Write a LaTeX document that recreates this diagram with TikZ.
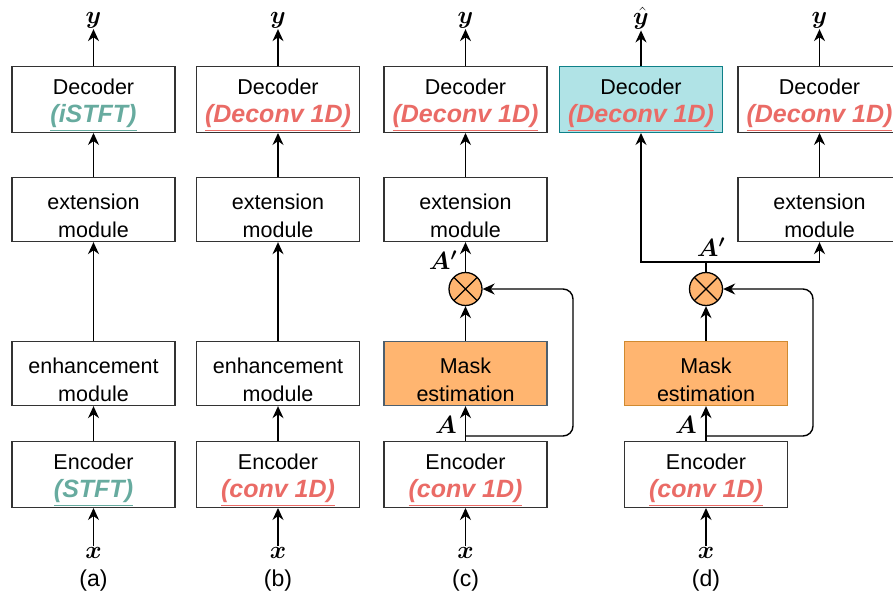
\documentclass[tikz,border=0pt]{standalone}
\usepackage{fontspec}
\setmainfont{Liberation Sans}
\usepackage{amsmath}
\usepackage{bm}
\usepackage{color}
\usetikzlibrary{arrows.meta}
\usetikzlibrary{positioning}
\definecolor{stftgreen}{HTML}{67AB9F}
\definecolor{convred}{HTML}{EA6B66}
\definecolor{maskfill}{HTML}{FFB570}
\definecolor{maskgray}{HTML}{4D5F6E}
\definecolor{maskbrown}{HTML}{D08A30}
\definecolor{tealfill}{HTML}{B0E3E6}
\definecolor{tealdraw}{HTML}{0E8088}
\newcommand{\greenlbl}[1]{\textcolor{stftgreen}{\fontsize{25}{27}\selectfont\bfseries\itshape\underline{#1}}}
\newcommand{\redlbl}[1]{\textcolor{convred}{\fontsize{25}{27}\selectfont\bfseries\itshape\underline{#1}}}
\newcommand{\twolines}[2]{\rule{0pt}{28pt}#1\\#2}
\tikzstyle{block}=[draw=black!80, line width=1.3pt, minimum width=163pt, minimum height=64pt, inner sep=0pt, align=center, font=\fontsize{21.5}{27.5}\selectfont]
\tikzstyle{mask_block}=[block, fill=maskfill]
\tikzstyle{sym}=[inner sep=1pt, font=\fontsize{30}{32}\selectfont]
\tikzstyle{caption}=[inner sep=0pt, font=\fontsize{23}{25}\selectfont]
\tikzstyle{flow}=[-{Stealth[length=12pt,width=11pt]}, line width=1.4pt]
\tikzstyle{mul}=[circle, draw=black, line width=1.3pt, fill=maskfill, minimum size=33pt, inner sep=0pt,
    path picture={
        \draw[black, line width=1.1pt]
        (path picture bounding box.south east) -- (path picture bounding box.north west)
        (path picture bounding box.south west) -- (path picture bounding box.north east);
    }
]

\begin{document}
\begin{tikzpicture}[x=1pt,y=-1pt]
\useasboundingbox (0,0) rectangle (893,607);
\node[block] (enca) at (93.5,474.5) {\twolines{Encoder}{\greenlbl{(STFT)}}};
\node[block] (enha) at (93.5,373.5) {\twolines{enhancement}{module}};
\node[block] (exta) at (93.5,209.5) {\twolines{extension}{module}};
\node[block] (deca) at (93.5,99.5) {\twolines{Decoder}{\greenlbl{(iSTFT)}}};
\node[sym] (xa) at (93.5,553) {$\bm{x}$};
\node[sym] (ya) at (93.5,20) {$\bm{y}$};
\node[caption] (capa) at (93.5,581) {(a)};
\draw[flow](xa) -- (enca);
\draw[flow](enca) -- (enha);
\draw[flow](enha) -- (exta);
\draw[flow](exta) -- (deca);
\draw[flow](deca) -- (ya);

\node[block] (encb) at (278,474.5) {\twolines{Encoder}{\redlbl{(conv 1D)}}};
\node[block] (enhb) at (278,373.5) {\twolines{enhancement}{module}};
\node[block] (extb) at (278,209.5) {\twolines{extension}{module}};
\node[block] (decb) at (278,99.5) {\twolines{Decoder}{\redlbl{(Deconv 1D)}}};
\node[sym] (xb) at (278,553) {$\bm{x}$};
\node[sym] (yb) at (278,20) {$\bm{y}$};
\node[caption] (capb) at (278,581) {(b)};
\draw[flow](xb) -- (encb);
\draw[flow](encb) -- (enhb);
\draw[flow](enhb) -- (extb);
\draw[flow](extb) -- (decb);
\draw[flow](decb) -- (yb);

\node[block] (encc) at (465.5,474.5) {\twolines{Encoder}{\redlbl{(conv 1D)}}};
\node[mask_block, draw=maskgray] (maskc) at (465.5,373.5) {\twolines{Mask}{estimation}};
\node[mul] (mulc) at (465.5,289) {};
\node[block] (extc) at (465.5,209.5) {\twolines{extension}{module}};
\node[block] (decc) at (465.5,99.5) {\twolines{Decoder}{\redlbl{(Deconv 1D)}}};
\node[sym] (xc) at (465.5,553) {$\bm{x}$};
\node[sym] (yc) at (465.5,20) {$\bm{y}$};
\node[caption] (capc) at (465.5,581) {(c)};
\node[sym, font=\fontsize{24}{26}\selectfont] (ac) at (446,425) {$\bm{A}$};
\node[sym, font=\fontsize{24}{26}\selectfont] (apc) at (443,260) {$\bm{A'}$};
\coordinate (brc) at (465.5,436);
\coordinate (rc1) at (573,436);
\coordinate (rc2) at (573,289);
\draw[flow](xc) -- (encc);
\draw[flow](encc) -- (maskc);
\draw[flow](maskc) -- (mulc);
\draw[flow](mulc) -- (extc);
\draw[flow](extc) -- (decc);
\draw[flow](decc) -- (yc);
\draw[flow, rounded corners=10pt](brc) -- (rc1) -- (rc2) -- (mulc);

\node[block] (encd) at (706,474.5) {\twolines{Encoder}{\redlbl{(conv 1D)}}};
\node[mask_block, draw=maskbrown] (maskd) at (706,373.5) {\twolines{Mask}{estimation}};
\node[mul] (muld) at (706,289) {};
\node[block, fill=tealfill, draw=tealdraw] (decd) at (641,99.5) {\twolines{Decoder}{\redlbl{(Deconv 1D)}}};
\node[block] (extr) at (819.5,209.5) {\twolines{extension}{module}};
\node[block] (decr) at (819.5,99.5) {\twolines{Decoder}{\redlbl{(Deconv 1D)}}};
\node[sym] (xd) at (706,553) {$\bm{x}$};
\node[sym] (yhd) at (641,18) {$\bm{\hat{y}}$};
\node[sym] (yr) at (819.5,20) {$\bm{y}$};
\node[caption] (capd) at (706,581) {(d)};
\node[sym, font=\fontsize{24}{26}\selectfont] (ad) at (686,425) {$\bm{A}$};
\node[sym, font=\fontsize{24}{26}\selectfont] (apd) at (711,247) {$\bm{A'}$};
\coordinate (brd) at (706,436);
\coordinate (rd1) at (813,436);
\coordinate (rd2) at (813,289);
\coordinate (jd) at (706,262);
\draw[flow](xd) -- (encd);
\draw[flow](encd) -- (maskd);
\draw[flow](maskd) -- (muld);
\draw[line width=1.4pt](muld) -- (jd);
\draw[flow](jd) -| (decd);
\draw[flow](jd) -| (extr);
\draw[flow](extr) -- (decr);
\draw[flow](decd) -- (yhd);
\draw[flow](decr) -- (yr);
\draw[flow, rounded corners=10pt](brd) -- (rd1) -- (rd2) -- (muld);
\end{tikzpicture}
\end{document}
